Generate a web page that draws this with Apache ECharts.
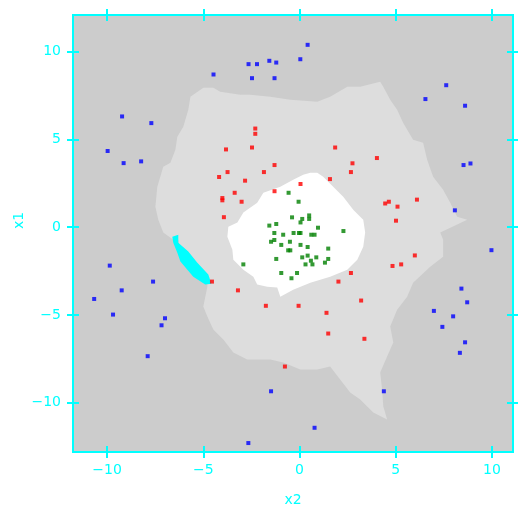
<!DOCTYPE html>
<html>
<head>
<meta charset="utf-8">
<script src="https://cdn.jsdelivr.net/npm/echarts@6/dist/echarts.min.js"></script>
<style>
  html, body { margin: 0; padding: 0; background: #ffffff; }
  #chart { width: 518px; height: 506px; }
</style>
</head>
<body>
<div id="chart"></div>
<script>
// Tick positions shared by both axes
const xTicks = [-10, -5, 0, 5, 10];
const yTicks = [-10, -5, 0, 5, 10];

// Class 1 (blue): outer ring, [x2, x1]
const bluePoints = [
  [-4.47, 8.70], [-2.65, 9.29], [-2.21, 9.29], [-2.47, 8.49], [-9.22, 6.31],
  [-7.70, 5.93], [-9.97, 4.34], [-9.14, 3.65], [-8.23, 3.75], [-1.57, 9.48],
  [-1.21, 9.38], [-1.30, 8.49], [0.04, 9.57], [0.42, 10.39], [7.62, 8.09],
  [6.54, 7.30], [8.60, 6.92], [8.52, 3.54], [8.88, 3.63], [8.07, 0.96],
  [9.97, -1.31], [-9.86, -2.19], [-7.61, -3.10], [-9.24, -3.60], [-10.67, -4.09],
  [-9.69, -4.98], [-6.99, -5.19], [-7.17, -5.59], [-7.89, -7.35], [-2.66, -12.30],
  [8.41, -3.50], [8.71, -4.28], [6.98, -4.77], [7.98, -5.08], [7.42, -5.68],
  [8.60, -6.56], [8.33, -7.16], [-1.48, -9.35], [4.38, -9.35], [0.78, -11.43]
];

// Class 2 (red): middle ring
const redPoints = [
  [-2.30, 5.62], [-2.30, 5.32], [-3.82, 4.43], [-2.47, 4.54], [-3.74, 3.14],
  [-4.18, 2.86], [-2.83, 2.65], [-3.37, 1.96], [-4.01, 1.66], [-4.01, 1.53],
  [-3.01, 1.45], [-3.93, 0.57], [1.85, 4.54], [4.02, 3.94], [2.75, 3.64],
  [-1.30, 3.54], [-1.85, 3.14], [2.67, 3.14], [1.58, 2.74], [0.05, 2.46],
  [-1.30, 2.05], [6.10, 1.57], [4.45, 1.35], [4.64, 1.45], [5.09, 1.17],
  [5.01, 0.37], [-4.55, -3.10], [-3.20, -3.60], [5.99, -1.61], [5.28, -2.12],
  [4.83, -2.21], [2.67, -2.61], [2.02, -3.10], [3.20, -4.18], [-1.75, -4.48],
  [-0.05, -4.48], [1.40, -4.88], [1.49, -6.06], [3.37, -6.36], [-0.76, -7.94]
];

// Class 3 (green): centre cluster
const greenPoints = [
  [-0.57, 1.96], [-0.05, 1.45], [-0.39, 0.56], [0.14, 0.47], [0.50, 0.67],
  [0.50, 0.47], [0.05, 0.27], [-1.57, 0.09], [-1.21, 0.18], [0.96, -0.03],
  [2.28, -0.22], [-1.31, -0.33], [-0.85, -0.43], [-0.31, -0.33], [-0.03, -0.33],
  [0.05, -0.33], [0.61, -0.43], [0.78, -0.43], [-1.48, -0.83], [-1.31, -0.73],
  [-0.50, -0.83], [-0.95, -1.01], [0.05, -1.01], [0.42, -1.13], [-0.59, -1.32],
  [-0.48, -1.32], [1.49, -1.22], [-1.21, -1.81], [0.14, -1.72], [0.42, -1.62],
  [0.87, -1.72], [0.59, -1.91], [0.67, -2.12], [0.31, -2.12], [1.49, -1.81],
  [1.32, -2.02], [-2.92, -2.12], [-0.95, -2.61], [-0.13, -2.61], [-0.42, -2.91]
];

// Decision region outlines (data coordinates)
const middleRegion = [
  [-5.67, 7.43], [-5.00, 7.94], [-4.48, 7.94], [-4.12, 7.71], [-3.08, 7.54],
  [-2.56, 7.54], [-1.52, 7.43], [-0.48, 7.26], [0.92, 7.14], [1.59, 7.43],
  [2.48, 8.00], [3.15, 8.00], [4.19, 8.28], [4.35, 8.00], [4.71, 7.26],
  [5.07, 6.69], [5.38, 5.95], [5.90, 4.98], [6.42, 4.81], [6.63, 3.84],
  [6.94, 2.87], [7.46, 2.13], [7.83, 1.39], [8.19, 0.60], [8.71, 0.43],
  [7.31, -0.31], [7.46, -0.71], [7.46, -1.68], [6.79, -2.25], [5.90, -3.16],
  [5.59, -3.96], [5.07, -4.70], [4.71, -5.66], [4.87, -6.57], [4.55, -7.37],
  [4.19, -8.28], [4.29, -9.25], [4.35, -10.21], [4.55, -10.96], [3.83, -10.56],
  [3.15, -9.82], [2.63, -9.42], [2.11, -8.68], [1.59, -7.94], [0.92, -8.11],
  [0.04, -8.11], [-0.85, -7.71], [-1.52, -7.54], [-2.72, -7.54], [-3.44, -7.14],
  [-3.96, -6.40], [-4.48, -5.83], [-4.79, -5.09], [-5.00, -4.52], [-4.79, -3.39],
  [-4.79, -2.99], [-6.19, -1.45], [-6.30, -0.71], [-6.56, -0.71], [-7.08, -0.31],
  [-7.34, 0.43], [-7.49, 1.17], [-7.39, 2.31], [-7.08, 3.44], [-6.71, 3.67],
  [-6.45, 4.41], [-6.35, 5.15], [-6.04, 5.72], [-5.78, 6.69]
];

const centreRegion = [
  [0.56, 3.10], [0.92, 3.10], [1.23, 2.87], [1.75, 2.30], [2.27, 1.74],
  [2.79, 1.00], [3.31, 0.43], [3.41, -0.31], [3.31, -1.11], [3.00, -1.85],
  [2.48, -2.42], [1.59, -2.82], [0.56, -3.16], [-0.33, -3.56], [-1.00, -3.96],
  [-1.16, -3.44], [-1.68, -3.39], [-2.20, -3.27], [-2.40, -2.82], [-2.92, -2.42],
  [-3.44, -1.85], [-3.49, -1.28], [-3.75, -0.54], [-3.70, 0.03], [-3.23, 0.26],
  [-2.92, 0.83], [-2.20, 1.39], [-1.88, 1.96], [-1.00, 2.31], [-0.33, 2.70],
  [0.19, 2.99]
];

const fourthRegion = [
  [-6.61, -0.54], [-6.30, -0.43], [-6.30, -0.88], [-5.78, -1.39], [-5.31, -2.02],
  [-4.74, -2.70], [-4.58, -3.22], [-4.90, -3.27], [-5.52, -2.82], [-6.19, -1.96],
  [-6.35, -1.45], [-6.56, -0.88]
];

const AXIS = '#00ffff';
const FONT = 'DejaVu Sans';
const fmt = v => (v < 0 ? '\u2212' + Math.abs(v) : String(v));

function regionSeries(name, outline, color, z) {
  return {
    name: name,
    type: 'custom',
    silent: true,
    clip: true,
    z: z,
    data: [[0, 0]],
    renderItem: function (params, api) {
      return {
        type: 'polygon',
        shape: { points: outline.map(p => api.coord(p)) },
        style: { fill: color, stroke: null }
      };
    }
  };
}

function pointSeries(name, pts, color) {
  return {
    name: name,
    type: 'scatter',
    data: pts,
    symbol: 'rect',
    symbolSize: 4,
    z: 10,
    itemStyle: { color: color },
    silent: true
  };
}

function xAxisDef(pos, withLabels) {
  return {
    type: 'value',
    position: pos,
    min: -11.77,
    max: 11.09,
    offset: -6,
    z: 20,
    axisLine: { show: false, onZero: false },
    splitLine: { show: false },
    axisTick: { show: true, length: 12, customValues: xTicks, lineStyle: { color: AXIS, width: 2 } },
    axisLabel: {
      show: withLabels, customValues: xTicks, formatter: fmt,
      color: AXIS, fontFamily: FONT, fontSize: 14, margin: 17
    },
    name: withLabels ? 'x2' : '',
    nameLocation: 'middle',
    nameGap: 47,
    nameTextStyle: { color: AXIS, fontFamily: FONT, fontSize: 14 }
  };
}

function yAxisDef(pos, withLabels) {
  return {
    type: 'value',
    position: pos,
    min: -12.81,
    max: 12.09,
    offset: -6,
    z: 20,
    axisLine: { show: false, onZero: false },
    splitLine: { show: false },
    axisTick: { show: true, length: 12, customValues: yTicks, lineStyle: { color: AXIS, width: 2 } },
    axisLabel: {
      show: withLabels, customValues: yTicks, formatter: fmt,
      color: AXIS, fontFamily: FONT, fontSize: 14, margin: 18
    },
    name: withLabels ? 'x1' : '',
    nameLocation: 'middle',
    nameRotate: 90,
    nameGap: 53,
    nameMoveOverlap: false,
    nameTextStyle: { color: AXIS, fontFamily: FONT, fontSize: 14, padding: [0, 0, 0, 26] }
  };
}

const chart = echarts.init(document.getElementById('chart'), null, { renderer: 'canvas' });
chart.setOption({
  animation: false,
  backgroundColor: '#ffffff',
  grid: {
    left: 73, top: 15, width: 440, height: 437,
    show: true, backgroundColor: '#cccccc', borderColor: AXIS, borderWidth: 2,
    containLabel: false, outerBoundsMode: 'none'
  },
  xAxis: [xAxisDef('bottom', true), xAxisDef('top', false)],
  yAxis: [yAxisDef('left', true), yAxisDef('right', false)],
  series: [
    regionSeries('middle', middleRegion, '#dddddd', 1),
    regionSeries('fourth', fourthRegion, '#00ffff', 2),
    regionSeries('centre', centreRegion, '#ffffff', 3),
    pointSeries('class 1', bluePoints, '#0000ff'),
    pointSeries('class 2', redPoints, '#ff0000'),
    pointSeries('class 3', greenPoints, '#008000')
  ]
});
</script>
</body>
</html>
